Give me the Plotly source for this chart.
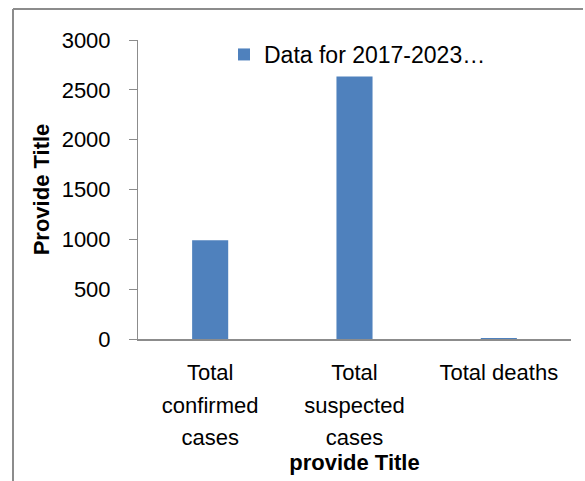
import plotly.graph_objects as go

category_lines = [["Total", "confirmed", "cases"], ["Total", "suspected", "cases"], ["Total deaths"]]
values = [990, 2635, 8]
series_name = "Data for 2017-2023…"
y_ticks = [0, 500, 1000, 1500, 2000, 2500, 3000]

# wrap each label line in a span so glyphs are smaller than the line spacing font
categories = ["<br>".join('<span style="font-size:22px">%s</span>' % s for s in lines)
              for lines in category_lines]

W, H = 585, 481
L, R, T, B = 138, 14, 40, 142
pw, ph = W - L - R, H - T - B

fig = go.Figure()
fig.add_trace(go.Bar(x=categories, y=values, name=series_name,
                     marker=dict(color="#4F81BD", line=dict(width=0)), width=0.25))

font = "Liberation Sans, Arial, sans-serif"
fig.update_layout(
    width=W, height=H,
    margin=dict(l=L, r=R, t=T, b=B, autoexpand=False),
    paper_bgcolor="white", plot_bgcolor="white",
    font=dict(family=font, size=22, color="black"),
    showlegend=True,
    legend=dict(x=(224 - L) / pw, y=1 - (33 - T) / ph, xanchor="left", yanchor="top",
                bgcolor="rgba(0,0,0,0)", font=dict(size=23), itemwidth=30,
                itemsizing="constant"),
)
fig.update_yaxes(range=[0, 3000], tickvals=y_ticks, showgrid=False, showline=True,
                 linecolor="#8c8c8c", linewidth=1, ticks="outside", ticklen=8,
                 tickcolor="#8c8c8c", ticklabelstandoff=14, zeroline=False,
                 tickfont=dict(size=22),
                 title=dict(text="<b>Provide Title</b>", font=dict(size=22), standoff=5))
fig.update_xaxes(showline=True, linecolor="#8c8c8c", linewidth=2, ticks="",
                 ticklabelstandoff=9, tickfont=dict(size=25),
                 title=dict(text="<b>provide Title</b>", font=dict(size=22), standoff=3))

# outer chart-area border (top and left edges visible)
bx0 = (13 - L) / pw
by1 = 1 + (T - 9) / ph
fig.add_shape(type="line", xref="paper", yref="paper", x0=bx0, x1=(W - 2 - L) / pw,
              y0=by1, y1=by1, line=dict(color="#8c8c8c", width=2))
fig.add_shape(type="line", xref="paper", yref="paper", x0=bx0, x1=bx0,
              y0=by1, y1=-(B + 5) / ph, line=dict(color="#8c8c8c", width=2))

fig.write_html("out.html")
